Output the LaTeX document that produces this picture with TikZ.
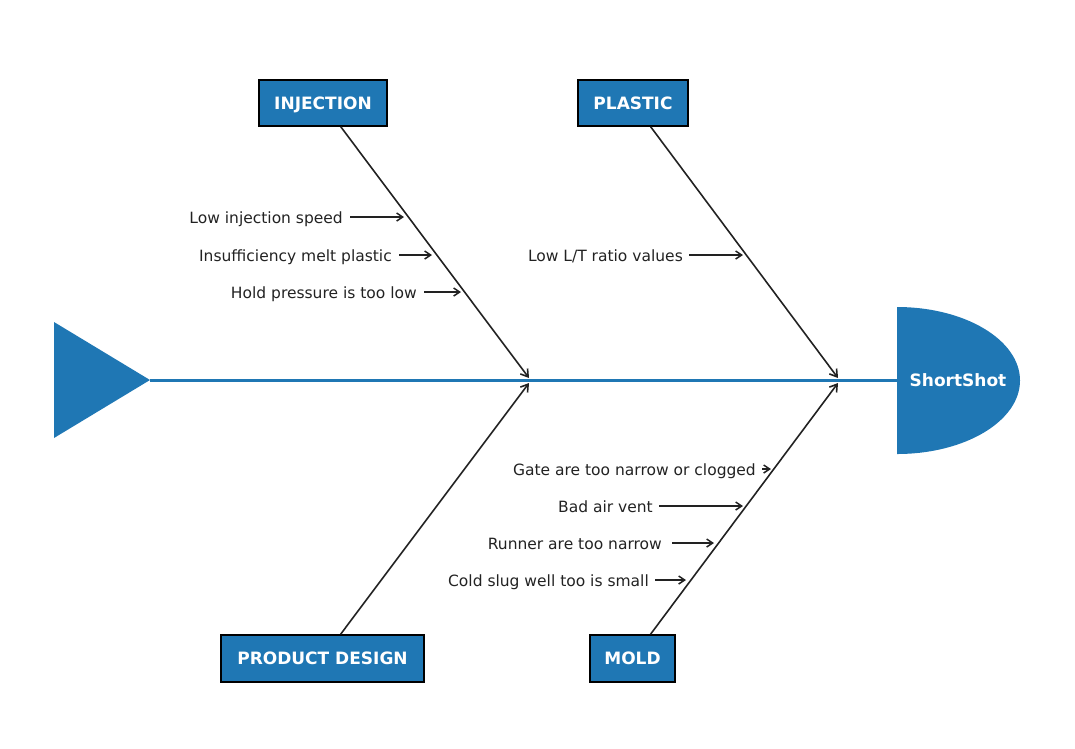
\documentclass[tikz,border=0pt]{standalone}
\usepackage{fontspec}
\setmainfont{DejaVu Sans}
\usetikzlibrary{arrows.meta}
\definecolor{tabblue}{HTML}{1F77B4}
\definecolor{ink}{HTML}{222222}
\begin{document}
\begin{tikzpicture}[x=1pt,y=-1pt,
  catbox/.style={draw=black, line width=1.5pt, fill=tabblue, text=white,
    font=\fontsize{17}{20}\selectfont\bfseries, inner sep=0pt, minimum height=46pt,
    text height=12.4pt, text depth=0pt},
  bone/.style={draw=ink, line width=1.6pt, -{Straight Barb[length=7pt,width=9pt]}},
  cause/.style={font=\fontsize{15.5}{18}\selectfont, text=ink, inner sep=0pt, anchor=base east},
  causearrow/.style={draw=ink, line width=1.5pt, -{Straight Barb[length=6pt,width=8pt]}}]
\useasboundingbox (0,0) rectangle (1075,748);

% tail and spine
\fill[tabblue] (54,322) -- (150,380) -- (54,438) -- cycle;
\coordinate (tailtip) at (150,380);
\coordinate (headbase) at (897,380);
\draw[tabblue, line width=3pt] (tailtip) -- (headbase);

% head
\fill[tabblue] (897,307) arc[start angle=90, end angle=-90, x radius=123pt, y radius=73.5pt] -- cycle;
\node[text=white, font=\fontsize{17}{20}\selectfont\bfseries, inner sep=0pt] (head) at (958,380) {ShortShot};

% category boxes
\node[catbox, minimum width=128pt] (inj) at (323,103) {INJECTION};
\node[catbox, minimum width=110pt] (pla) at (633,103) {PLASTIC};
\node[catbox, minimum width=203pt, minimum height=47pt] (pd) at (322.5,658.5) {PRODUCT DESIGN};
\node[catbox, minimum width=85pt, minimum height=47pt] (mold) at (632.5,658.5) {MOLD};

% joints on spine
\coordinate (j1) at (529,378);
\coordinate (j2) at (838,378);
\coordinate (j3) at (529,383);
\coordinate (j4) at (838,383);
\draw[bone] (inj) -- (j1);
\draw[bone] (pla) -- (j2);
\draw[bone] (pd) -- (j3);
\draw[bone] (mold) -- (j4);

% causes: injection
\node[cause] (c1) at (343,223) {Low injection speed};
\coordinate (t1) at (404,217);
\draw[causearrow] (350,217) -- (t1);
\node[cause] (c2) at (392,261) {Insufficiency melt plastic};
\coordinate (t2) at (432,255);
\draw[causearrow] (399,255) -- (t2);
\node[cause] (c3) at (417,298) {Hold pressure is too low};
\coordinate (t3) at (461,292);
\draw[causearrow] (424,292) -- (t3);

% causes: plastic
\node[cause] (c4) at (683,261) {Low L/T ratio values};
\coordinate (t4) at (743,255);
\draw[causearrow] (689,255) -- (t4);

% causes: mold
\node[cause] (c5) at (756,475.5) {Gate are too narrow or clogged};
\coordinate (t5) at (771,469);
\draw[causearrow] (762,469) -- (t5);
\node[cause] (c6) at (653,512.5) {Bad air vent};
\coordinate (t6) at (743,506);
\draw[causearrow] (659,506) -- (t6);
\node[cause] (c7) at (662,549.5) {Runner are too narrow};
\coordinate (t7) at (714,543);
\draw[causearrow] (672,543) -- (t7);
\node[cause] (c8) at (649,586.5) {Cold slug well too is small};
\coordinate (t8) at (686,580);
\draw[causearrow] (655,580) -- (t8);
\end{tikzpicture}
\end{document}
